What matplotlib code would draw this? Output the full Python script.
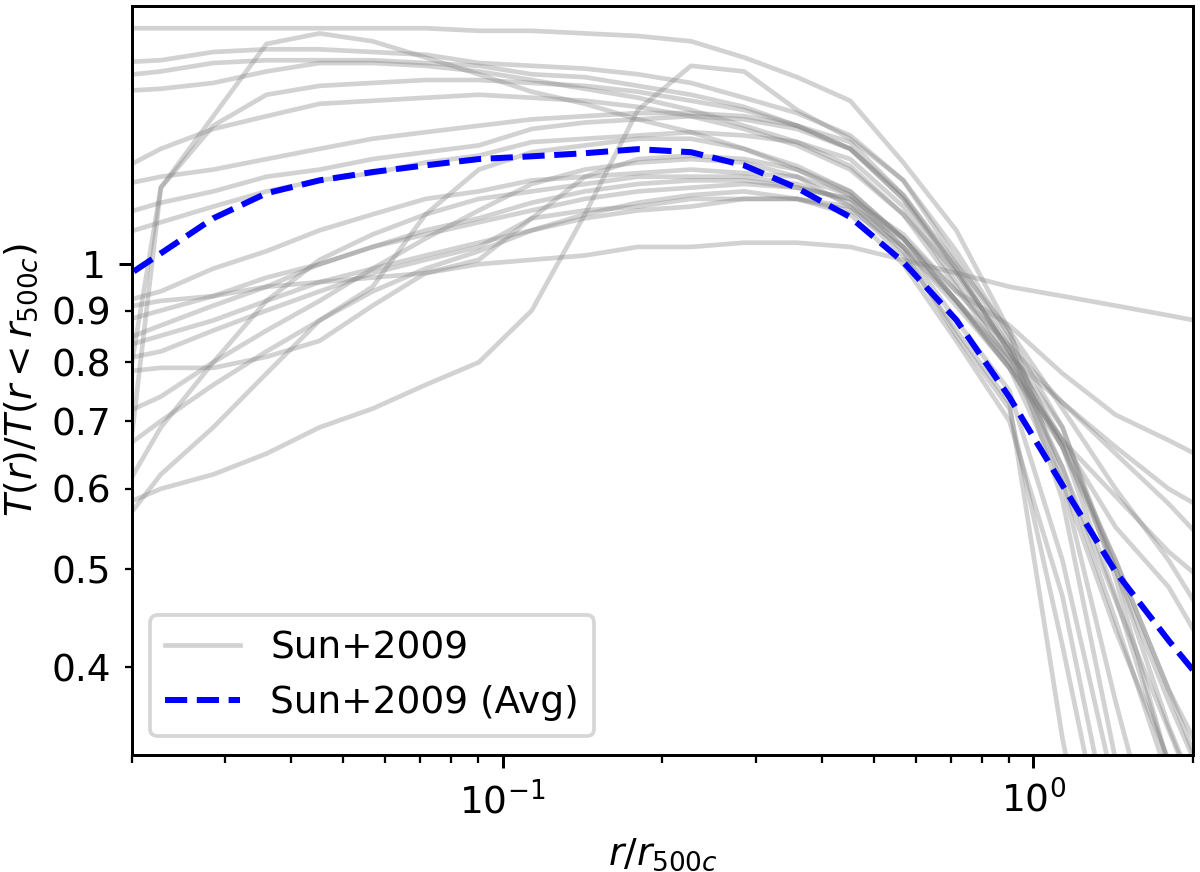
import matplotlib
matplotlib.use("Agg")
import matplotlib.pyplot as plt
from matplotlib.ticker import FixedLocator, FixedFormatter

# radius grid r/r500c (vertices of the profiles)
r_grid = [0.0180, 0.0227, 0.0285, 0.0359, 0.0452, 0.0569, 0.0716, 0.0902,
          0.1135, 0.1429, 0.1799, 0.2265, 0.2851, 0.3589, 0.4519, 0.5689,
          0.7161, 0.9016, 1.135, 1.429, 1.799, 2.265]

# individual Sun+2009 profiles T(r)/T(r<r500c)
prof_T1 = [1.71,1.71,1.71,1.71,1.71,1.71,1.71,1.70,1.70,1.69,1.68,1.66,1.60,1.53,1.45,1.26,1.08,0.86,0.61,0.37,0.235,0.19]
prof_B  = [1.58,1.59,1.62,1.63,1.63,1.62,1.61,1.58,1.57,1.56,1.54,1.51,1.46,1.41,1.34,1.21,1.03,0.85,0.69,0.50,0.35,0.26]
prof_C  = [1.53,1.55,1.58,1.59,1.59,1.59,1.58,1.57,1.54,1.53,1.50,1.47,1.43,1.37,1.30,1.16,0.99,0.82,0.63,0.445,0.31,0.24]
prof_D  = [1.48,1.49,1.51,1.55,1.58,1.58,1.57,1.55,1.52,1.49,1.46,1.42,1.37,1.32,1.25,1.12,0.95,0.80,0.63,0.466,0.347,0.258]
prof_E  = [0.42,1.19,1.40,1.65,1.69,1.66,1.60,1.54,1.48,1.44,1.39,1.35,1.30,1.24,1.17,1.04,0.91,0.79,0.66,0.50,0.37,0.28]
prof_G  = [0.57,1.19,1.37,1.47,1.50,1.51,1.52,1.52,1.51,1.50,1.48,1.45,1.42,1.37,1.30,1.16,0.98,0.82,0.69,0.49,0.32,0.24]
prof_Gb = [1.22,1.30,1.36,1.40,1.44,1.45,1.46,1.47,1.46,1.45,1.43,1.40,1.36,1.31,1.24,1.12,0.98,0.83,0.66,0.47,0.32,0.235]
prof_P  = [0.57,0.60,0.62,0.65,0.69,0.72,0.76,0.80,0.90,1.12,1.42,1.57,1.55,1.42,1.33,1.21,1.01,0.84,0.585,0.324,0.235,0.19]
prof_S  = [0.53,0.62,0.69,0.78,0.88,0.95,1.12,1.24,1.29,1.31,1.33,1.33,1.30,1.25,1.18,1.06,0.92,0.80,0.67,0.55,0.48,0.39]
prof_F  = [0.90,0.92,0.93,0.95,0.96,0.97,0.98,1.00,1.01,1.02,1.04,1.04,1.05,1.05,1.04,1.01,0.98,0.95,0.93,0.91,0.89,0.87]
prof_H  = [1.19,1.22,1.24,1.27,1.30,1.33,1.35,1.37,1.39,1.40,1.41,1.41,1.40,1.37,1.32,1.17,1.00,0.86,0.72,0.60,0.51,0.42]
prof_J  = [1.11,1.15,1.18,1.22,1.24,1.27,1.29,1.31,1.36,1.38,1.39,1.40,1.39,1.36,1.30,1.17,0.99,0.82,0.67,0.51,0.38,0.30]
prof_K  = [1.06,1.10,1.14,1.18,1.21,1.23,1.26,1.28,1.32,1.33,1.34,1.35,1.34,1.32,1.27,1.14,0.96,0.81,0.66,0.51,0.38,0.28]
prof_L  = [0.91,0.94,0.99,1.03,1.08,1.12,1.16,1.18,1.21,1.22,1.23,1.24,1.23,1.22,1.17,1.06,0.92,0.79,0.61,0.435,0.324,0.26]
prof_M  = [0.87,0.90,0.93,0.97,1.00,1.04,1.07,1.10,1.13,1.16,1.18,1.19,1.20,1.19,1.16,1.07,0.94,0.83,0.73,0.65,0.58,0.51]
prof_N  = [0.83,0.87,0.91,0.95,1.00,1.04,1.08,1.11,1.15,1.18,1.20,1.21,1.21,1.19,1.16,1.04,0.88,0.75,0.51,0.30,0.19,0.17]
prof_O  = [0.82,0.85,0.88,0.92,0.96,0.99,1.02,1.05,1.08,1.11,1.13,1.14,1.16,1.16,1.14,1.06,0.94,0.87,0.78,0.71,0.67,0.63]
prof_Q  = [0.80,0.82,0.86,0.90,0.94,0.98,1.01,1.04,1.11,1.13,1.14,1.16,1.16,1.16,1.13,1.04,0.92,0.81,0.73,0.66,0.60,0.56]
prof_R  = [0.78,0.79,0.79,0.81,0.84,0.91,0.98,1.01,1.11,1.22,1.27,1.28,1.27,1.24,1.18,1.06,0.92,0.79,0.67,0.59,0.52,0.47]
prof_U  = [0.70,0.74,0.80,0.86,0.92,0.99,1.06,1.13,1.20,1.24,1.26,1.27,1.26,1.22,1.14,1.02,0.86,0.73,0.34,0.19,0.17,0.16]
prof_V  = [0.64,0.70,0.76,0.82,0.88,0.94,0.99,1.03,1.08,1.12,1.15,1.17,1.18,1.16,1.12,1.00,0.84,0.70,0.47,0.26,0.19,0.17]
prof_W  = [0.56,0.69,0.80,0.92,1.01,1.07,1.12,1.16,1.18,1.20,1.22,1.22,1.22,1.20,1.15,1.03,0.85,0.72,0.42,0.235,0.19,0.17]

# average profile
avg_T = [0.945,1.025,1.110,1.175,1.210,1.233,1.252,1.270,1.278,1.287,1.299,1.290,
         1.252,1.189,1.113,1.005,0.881,0.739,0.605,0.497,0.425,0.367]

profiles = [prof_T1, prof_B, prof_C, prof_D, prof_E, prof_G, prof_Gb, prof_P,
            prof_S, prof_F, prof_H, prof_J, prof_K, prof_L, prof_M, prof_N,
            prof_O, prof_Q, prof_R, prof_U, prof_V, prof_W]

y_major = [1.0]
y_major_labels = ["1"]
y_minor = [0.4, 0.5, 0.6, 0.7, 0.8, 0.9]
y_minor_labels = ["0.4", "0.5", "0.6", "0.7", "0.8", "0.9"]

DPI = 270
fig = plt.figure(figsize=(1200 / DPI, 872 / DPI), dpi=DPI)
ax = fig.add_axes([0.1097, 0.1342, 0.8845, 0.8593])

for i, p in enumerate(profiles):
    ax.plot(r_grid, p, color="gray", alpha=0.35, lw=1.25,
            label="Sun+2009" if i == 0 else None)
ax.plot(r_grid, avg_T, color="blue", ls="--", lw=1.6, label="Sun+2009 (Avg)")

ax.set_xscale("log")
ax.set_yscale("log")
ax.set_xlim(0.02, 2.0)
ax.set_ylim(0.3276, 1.80)
ax.yaxis.set_major_locator(FixedLocator(y_major))
ax.yaxis.set_major_formatter(FixedFormatter(y_major_labels))
ax.yaxis.set_minor_locator(FixedLocator(y_minor))
ax.yaxis.set_minor_formatter(FixedFormatter(y_minor_labels))

ax.set_xlabel(r"$r/r_{500c}$")
ax.set_ylabel(r"$T(r)/T(r<r_{500c})$")
ax.yaxis.set_label_coords(-0.086, 0.5)
ax.legend(loc="lower left")

fig.savefig("out.png", dpi=DPI)
